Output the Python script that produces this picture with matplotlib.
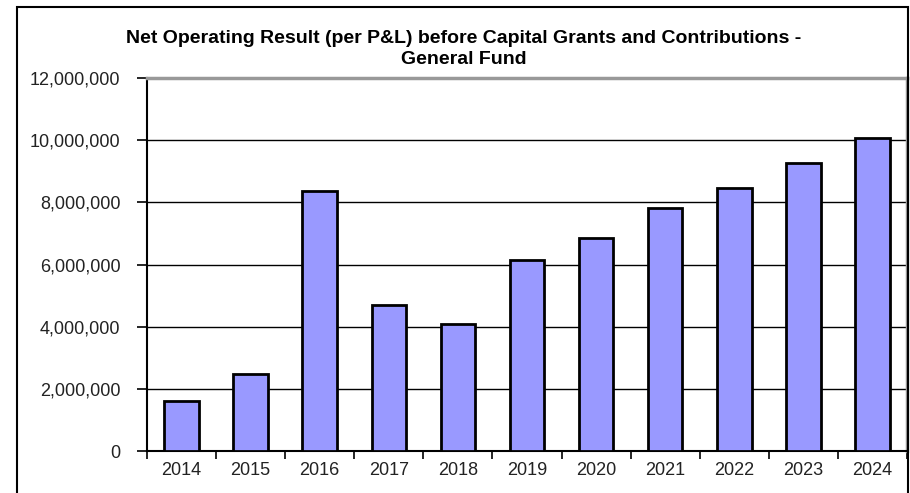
import matplotlib.pyplot as plt
import matplotlib.ticker as mticker
import numpy as np
from matplotlib.patches import Rectangle

plt.rcParams['font.family'] = ['Liberation Sans', 'DejaVu Sans']

years = ["2014", "2015", "2016", "2017", "2018", "2019",
         "2020", "2021", "2022", "2023", "2024"]
result = [1610000, 2480000, 8360000, 4700000, 4090000, 6140000,
          6840000, 7810000, 8470000, 9280000, 10060000]

fig = plt.figure(figsize=(9.1, 4.93), dpi=100)
ax = fig.add_axes([147/910, 42/493, 760/910, 373/493])

x = np.arange(len(years))
ax.bar(x, result, width=0.5, color="#9999FF", edgecolor="black", linewidth=2, zorder=3)

ax.set_xlim(-0.5, len(years) - 0.5)
ax.set_ylim(0, 12000000)
ax.yaxis.set_major_locator(mticker.MultipleLocator(2000000))
ax.yaxis.set_major_formatter(mticker.FuncFormatter(lambda v, p: f"{int(v):,}"))
ax.grid(axis="y", color="black", linewidth=1, zorder=0)

ax.set_xticks(x)
ax.set_xticklabels(years)
ax.set_xticks(np.arange(len(years) + 1) - 0.5, minor=True)
ax.tick_params(axis="x", which="major", length=0, pad=8, labelsize=13, labelcolor="#222222")
ax.tick_params(axis="x", which="minor", length=6, width=1.2, color="black")
ax.tick_params(axis="y", length=7, width=1.2, pad=12, labelsize=13, labelcolor="#222222")

ax.spines["left"].set_linewidth(1.5)
ax.spines["bottom"].set_linewidth(1.5)
ax.spines["top"].set_color("#999999")
ax.spines["top"].set_linewidth(2.5)
ax.spines["right"].set_color("#999999")
ax.spines["right"].set_linewidth(2.5)

fig.text(464/910, 1 - 49/493,
         "Net Operating Result (per P&L) before Capital Grants and Contributions -\nGeneral Fund",
         ha="center", va="center", fontsize=14, fontweight="bold", linespacing=1.3)

# outer frame of the chart object
fig.add_artist(Rectangle((17/910, -0.05), (908 - 17)/910, 1.05 - 7/493,
                         transform=fig.transFigure, fill=False,
                         edgecolor="black", linewidth=1.5))

fig.savefig("out.png", dpi=100)
